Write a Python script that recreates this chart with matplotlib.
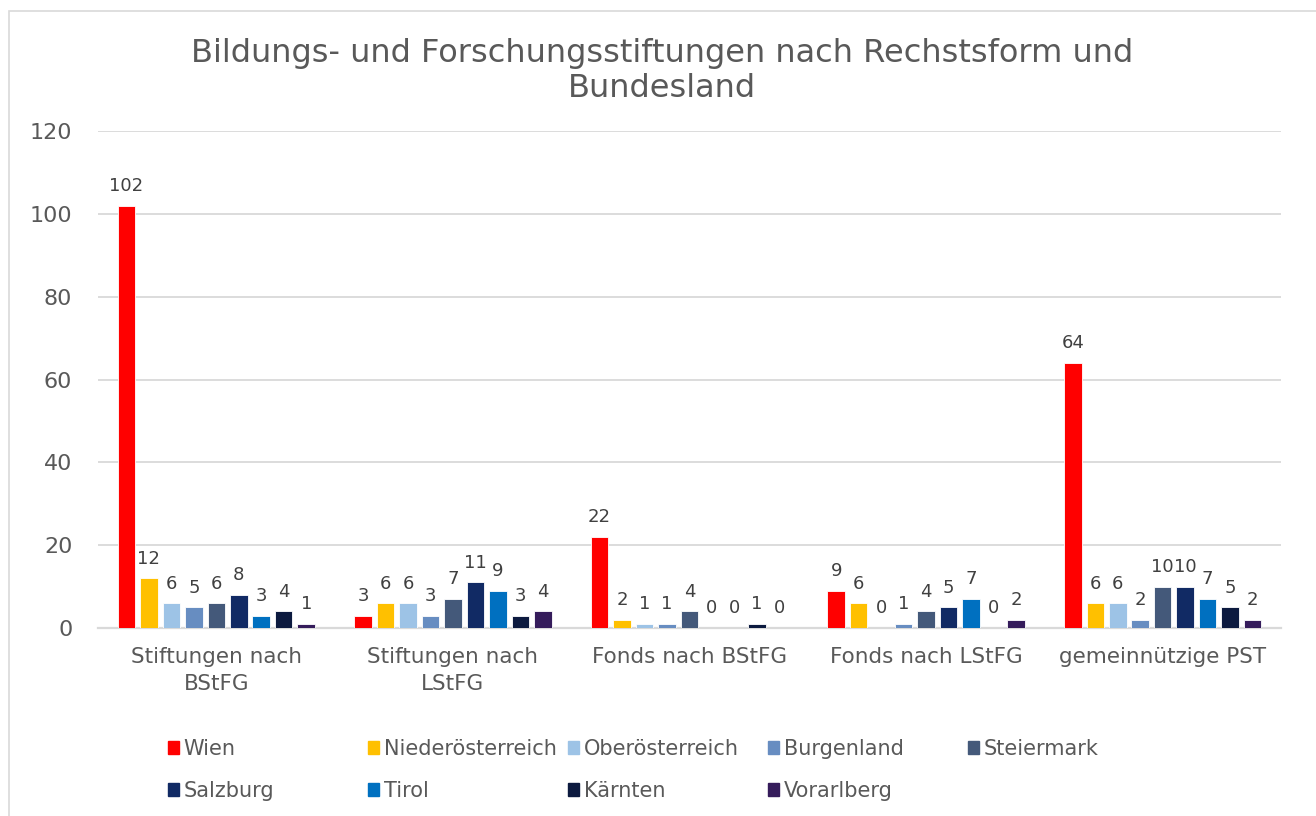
import numpy as np
import matplotlib.pyplot as plt
from matplotlib.patches import Rectangle, Patch

categories = ["Stiftungen nach\nBStFG", "Stiftungen nach\nLStFG", "Fonds nach BStFG",
              "Fonds nach LStFG", "gemeinnützige PST"]
states = ["Wien", "Niederösterreich", "Oberösterreich", "Burgenland", "Steiermark",
          "Salzburg", "Tirol", "Kärnten", "Vorarlberg"]
wien = [102, 3, 22, 9, 64]
niederoesterreich = [12, 6, 2, 6, 6]
oberoesterreich = [6, 6, 1, 0, 6]
burgenland = [5, 3, 1, 1, 2]
steiermark = [6, 7, 4, 4, 10]
salzburg = [8, 11, 0, 5, 10]
tirol = [3, 9, 0, 7, 7]
kaernten = [4, 3, 1, 0, 5]
vorarlberg = [1, 4, 0, 2, 2]
series = [wien, niederoesterreich, oberoesterreich, burgenland, steiermark,
          salzburg, tirol, kaernten, vorarlberg]
colors = ["#FF0000", "#FFC000", "#9DC3E6", "#678DC1", "#44597A",
          "#112A64", "#0070C0", "#0C1A3F", "#351C5B"]

plt.rcParams['font.family'] = ['DejaVu Sans']

fig = plt.figure(figsize=(13.16, 8.16), dpi=100)
fig.patches.append(Rectangle((9 / 1316, -0.05), 1.1, 1.05 - 11 / 816,
                             transform=fig.transFigure, fill=False,
                             edgecolor="#D9D9D9", lw=1.2))
ax = fig.add_axes([98 / 1316, 1 - 628 / 816, (1281 - 98) / 1316, (628 - 131) / 816])

x = np.arange(len(categories))
slot = 0.095
width = 0.074
for i, (vals, col) in enumerate(zip(series, colors)):
    pos = x + (i - 4) * slot
    ax.bar(pos, vals, width, color=col, edgecolor="white", linewidth=0.6, label=states[i], zorder=3)
    for p, v in zip(pos, vals):
        ax.annotate(str(v), (p, v), xytext=(0, 10.5), textcoords="offset points",
                    ha="center", va="baseline", fontsize=13, color="#404040")

ax.set_xlim(-0.5, len(categories) - 0.5)
ax.set_ylim(0, 120)
ax.set_yticks(range(0, 121, 20))
ax.set_xticks(x)
ax.set_xticklabels(categories, fontsize=15.5, color="#595959", linespacing=1.4)
ax.tick_params(axis="y", labelsize=16, colors="#595959", length=0, pad=18.5)
ax.tick_params(axis="x", length=0, pad=14)
ax.grid(axis="y", color="#D9D9D9", lw=1.3, zorder=0)
for s in ["left", "right", "top"]:
    ax.spines[s].set_visible(False)
ax.spines["bottom"].set_color("#D9D9D9")
ax.spines["bottom"].set_linewidth(1.6)

fig.text(0.503, 1 - 71 / 816, "Bildungs- und Forschungsstiftungen nach Rechstsform und\nBundesland",
         ha="center", va="center", fontsize=23, color="#595959", linespacing=1.2)

# legend: five columns of equal width, filled row by row
col_x = [168, 368, 568, 768, 968]
for j in range(5):
    idx = [k for k in (j, j + 5) if k < len(states)]
    handles = [Patch(color=colors[k], label=states[k]) for k in idx]
    leg = fig.legend(handles=handles, loc="upper left",
                     bbox_to_anchor=(col_x[j] / 1316, 1 - 739 / 816),
                     frameon=False, fontsize=15, handlelength=0.55, handleheight=0.55,
                     handletextpad=0.2, labelspacing=1.04, borderpad=0, borderaxespad=0)
    for t in leg.get_texts():
        t.set_color("#595959")

fig.savefig("out.png", dpi=100)
